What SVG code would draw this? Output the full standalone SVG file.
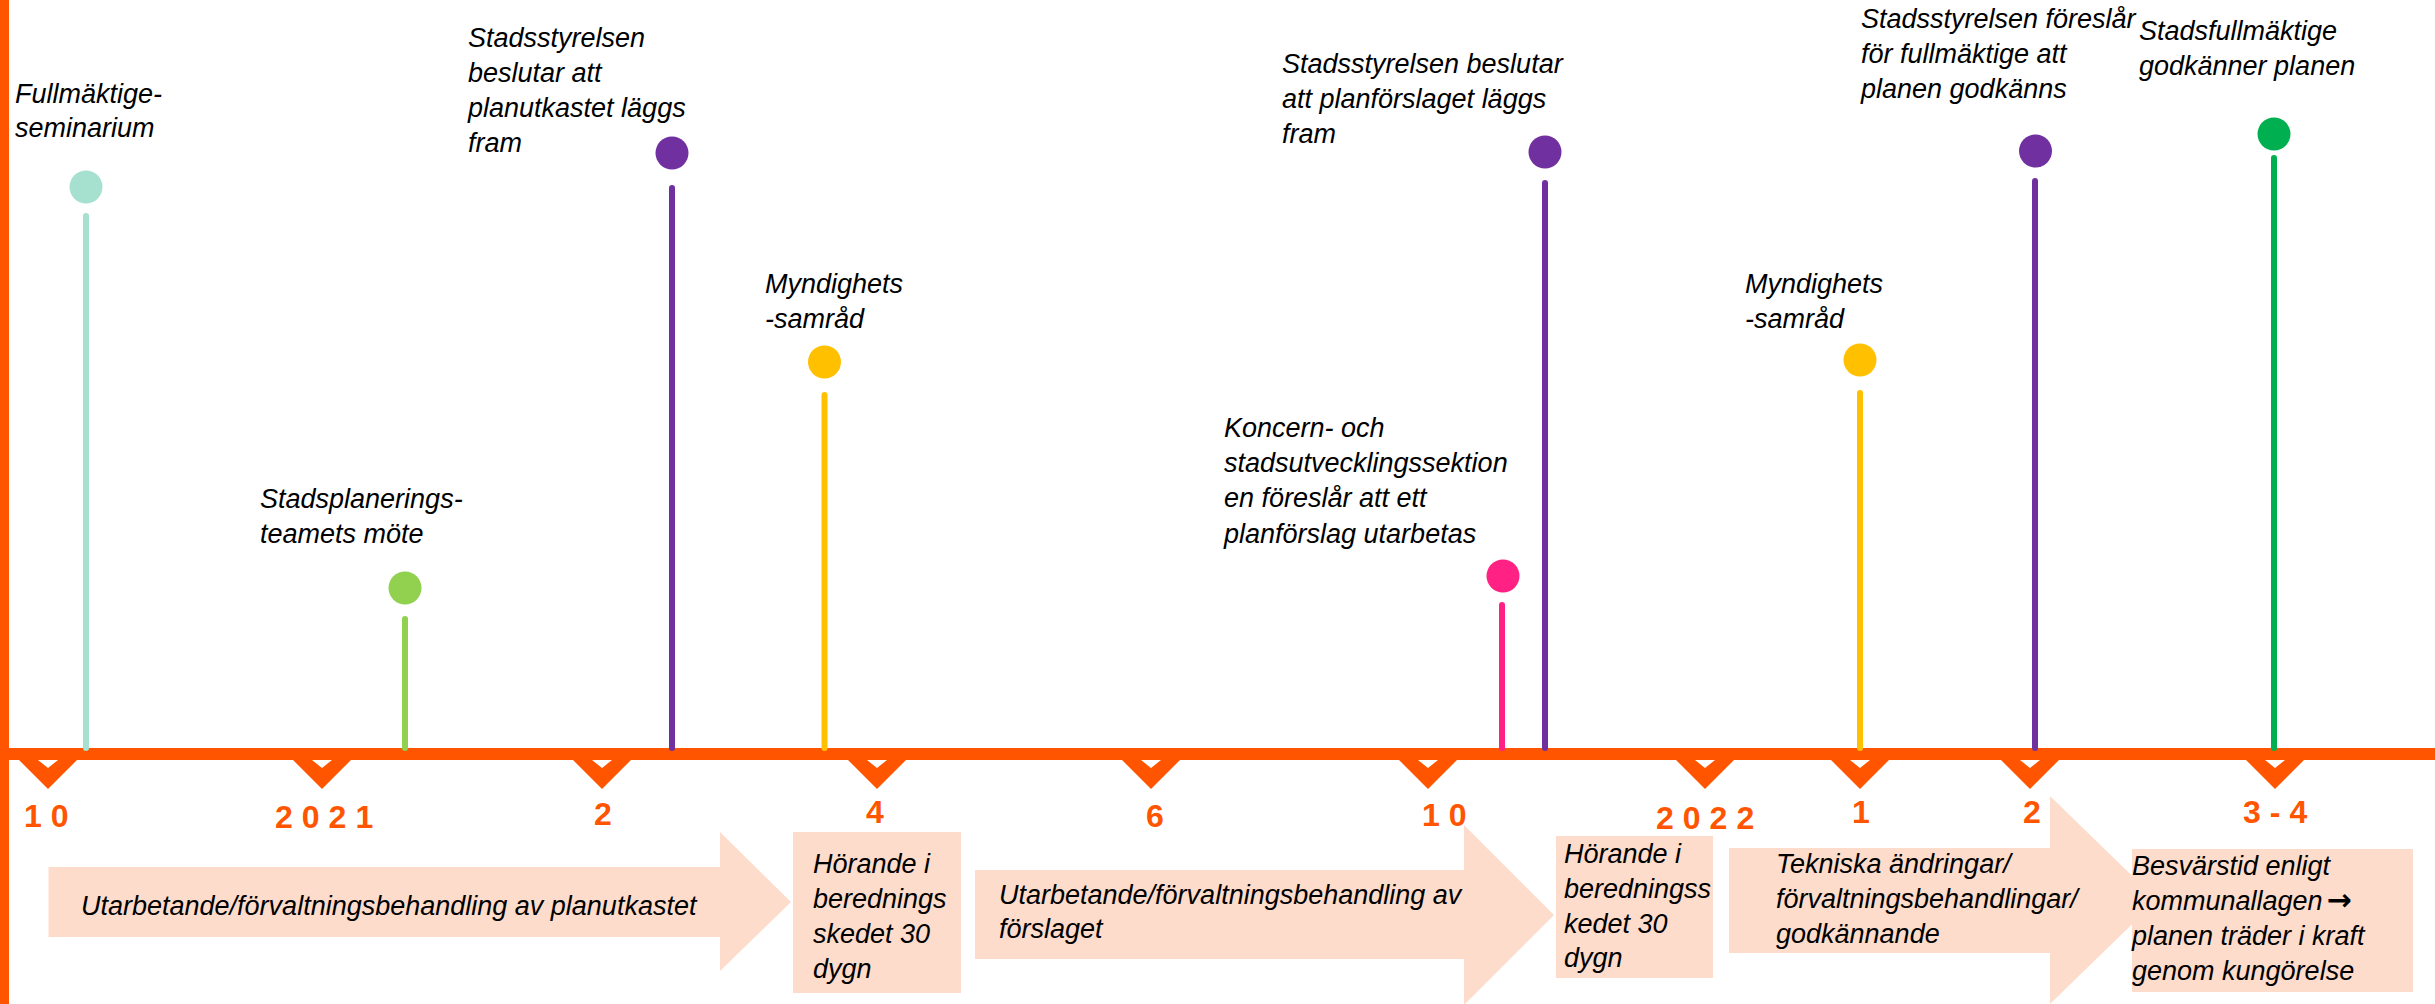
<svg xmlns="http://www.w3.org/2000/svg" width="2435" height="1004" viewBox="0 0 2435 1004">
<style>
.lbl{font-family:"Liberation Sans",Arial,sans-serif;font-style:italic;font-size:27px;fill:#000}
.tk{font-family:"Liberation Sans",Arial,sans-serif;font-weight:bold;font-size:32px;fill:#FF5500;letter-spacing:9px}
.pe{fill:#FDDCCB}
.stem{stroke-width:6;stroke-linecap:round;fill:none}
.or{fill:#FF5500}
</style>
<defs>
<path id="tick" d="M-29,760 L29,760 L0,789 Z M-10,760 L0,768 L10,760 Z" fill="#FF5500" fill-rule="evenodd"/>
</defs>
<rect width="2435" height="1004" fill="#fff"/>

<g id="axis">
<rect class="or" x="0" y="0" width="9" height="1004"/>
<rect class="or" x="0" y="748" width="2435" height="12"/>
<use href="#tick" x="48"/>
<use href="#tick" x="322"/>
<use href="#tick" x="602"/>
<use href="#tick" x="877"/>
<use href="#tick" x="1151"/>
<use href="#tick" x="1428"/>
<use href="#tick" x="1705"/>
<use href="#tick" x="1860"/>
<use href="#tick" x="2030"/>
<use href="#tick" x="2275"/>
<text class="tk" x="24" y="827">10</text>
<text class="tk" x="275" y="828">2021</text>
<text class="tk" x="594" y="825">2</text>
<text class="tk" x="866" y="823">4</text>
<text class="tk" x="1146" y="827">6</text>
<text class="tk" x="1422" y="826">10</text>
<text class="tk" x="1656" y="829">2022</text>
<text class="tk" x="1852" y="823">1</text>
<text class="tk" x="2023" y="823">2</text>
<text class="tk" x="2243" y="823">3-4</text>
</g>

<g id="connectors">
<line class="stem" stroke="#A6E1D0" x1="86" y1="216" x2="86" y2="748"/>
<line class="stem" stroke="#92D050" x1="405" y1="619" x2="405" y2="748"/>
<line class="stem" stroke="#7030A0" x1="672" y1="188" x2="672" y2="748"/>
<line class="stem" stroke="#FFC000" x1="824.5" y1="395" x2="824.5" y2="748"/>
<line class="stem" stroke="#FF2284" x1="1502" y1="605" x2="1502" y2="748"/>
<line class="stem" stroke="#7030A0" x1="1545" y1="183" x2="1545" y2="748"/>
<line class="stem" stroke="#FFC000" x1="1860" y1="393" x2="1860" y2="748"/>
<line class="stem" stroke="#7030A0" x1="2035" y1="181" x2="2035" y2="748"/>
<line class="stem" stroke="#00B050" x1="2274" y1="158" x2="2274" y2="748"/>
</g>

<g id="n-fullmaktigeseminarium">
<circle cx="86" cy="187" r="16.5" fill="#A6E1D0"/>
<text class="lbl" x="15" y="103">Fullmäktige-</text>
<text class="lbl" x="15" y="137">seminarium</text>
</g>
<g id="n-stadsplanering">
<circle cx="405" cy="588" r="16.5" fill="#92D050"/>
<text class="lbl" x="260" y="508">Stadsplanerings-</text>
<text class="lbl" x="260" y="543">teamets möte</text>
</g>
<g id="n-ss-planutkast">
<circle cx="672" cy="153" r="16.5" fill="#7030A0"/>
<text class="lbl" x="468" y="47">Stadsstyrelsen</text>
<text class="lbl" x="468" y="82">beslutar att</text>
<text class="lbl" x="468" y="117">planutkastet läggs</text>
<text class="lbl" x="468" y="152">fram</text>
</g>
<g id="n-myndighetssamrad-1">
<circle cx="824.5" cy="362" r="16.5" fill="#FFC000"/>
<text class="lbl" x="765" y="293">Myndighets</text>
<text class="lbl" x="765" y="328">-samråd</text>
</g>
<g id="n-koncern">
<circle cx="1503" cy="576" r="16.5" fill="#FF2284"/>
<text class="lbl" x="1224" y="437">Koncern- och</text>
<text class="lbl" x="1224" y="472">stadsutvecklingssektion</text>
<text class="lbl" x="1224" y="507">en föreslår att ett</text>
<text class="lbl" x="1224" y="543">planförslag utarbetas</text>
</g>
<g id="n-ss-planforslag">
<circle cx="1545" cy="152" r="16.5" fill="#7030A0"/>
<text class="lbl" x="1282" y="73">Stadsstyrelsen beslutar</text>
<text class="lbl" x="1282" y="108">att planförslaget läggs</text>
<text class="lbl" x="1282" y="143">fram</text>
</g>
<g id="n-myndighetssamrad-2">
<circle cx="1860" cy="360" r="16.5" fill="#FFC000"/>
<text class="lbl" x="1745" y="293">Myndighets</text>
<text class="lbl" x="1745" y="328">-samråd</text>
</g>
<g id="n-ss-foreslar">
<circle cx="2035.5" cy="151" r="16.5" fill="#7030A0"/>
<text class="lbl" x="1861" y="28">Stadsstyrelsen föreslår</text>
<text class="lbl" x="1861" y="63">för fullmäktige att</text>
<text class="lbl" x="1861" y="98">planen godkänns</text>
</g>
<g id="n-sf-godkanner">
<circle cx="2274" cy="134" r="16.5" fill="#00B050"/>
<text class="lbl" x="2139" y="40">Stadsfullmäktige</text>
<text class="lbl" x="2139" y="75">godkänner planen</text>
</g>

<g id="p-utarbetande-1">
<polygon class="pe" points="48.5,867 720,867 720,832 791,902 720,971 720,937 48.5,937"/>
<text class="lbl" x="81" y="915">Utarbetande/förvaltningsbehandling av planutkastet</text>
</g>
<g id="p-horande-1">
<rect class="pe" x="793" y="832" width="168" height="161"/>
<text class="lbl" x="813" y="873">Hörande i</text>
<text class="lbl" x="813" y="908">berednings</text>
<text class="lbl" x="813" y="943">skedet 30</text>
<text class="lbl" x="813" y="978">dygn</text>
</g>
<g id="p-utarbetande-2">
<polygon class="pe" points="975,870 1464,870 1464,825 1554,915 1464,1005 1464,959 975,959"/>
<text class="lbl" x="999" y="904">Utarbetande/förvaltningsbehandling av</text>
<text class="lbl" x="999" y="938">förslaget</text>
</g>
<g id="p-horande-2">
<rect class="pe" x="1556" y="836" width="157" height="142"/>
<text class="lbl" x="1564" y="863">Hörande i</text>
<text class="lbl" x="1564" y="898">beredningss</text>
<text class="lbl" x="1564" y="933">kedet 30</text>
<text class="lbl" x="1564" y="967">dygn</text>
</g>
<g id="p-tekniska">
<polygon class="pe" points="1729,848 2050,848 2050,796 2157,900 2050,1004 2050,953 1729,953"/>
<text class="lbl" x="1776" y="873">Tekniska ändringar/</text>
<text class="lbl" x="1776" y="908">förvaltningsbehandlingar/</text>
<text class="lbl" x="1776" y="943">godkännande</text>
</g>
<g id="p-besvarstid">
<rect class="pe" x="2132" y="849" width="281" height="143"/>
<text class="lbl" x="2132" y="875">Besvärstid enligt</text>
<text class="lbl" x="2132" y="910">kommunallagen<tspan font-family="DejaVu Sans, sans-serif" font-style="normal" font-weight="bold" font-size="30px" dx="4">→</tspan></text>
<text class="lbl" x="2132" y="945">planen träder i kraft</text>
<text class="lbl" x="2132" y="980">genom kungörelse</text>
</g>
</svg>
